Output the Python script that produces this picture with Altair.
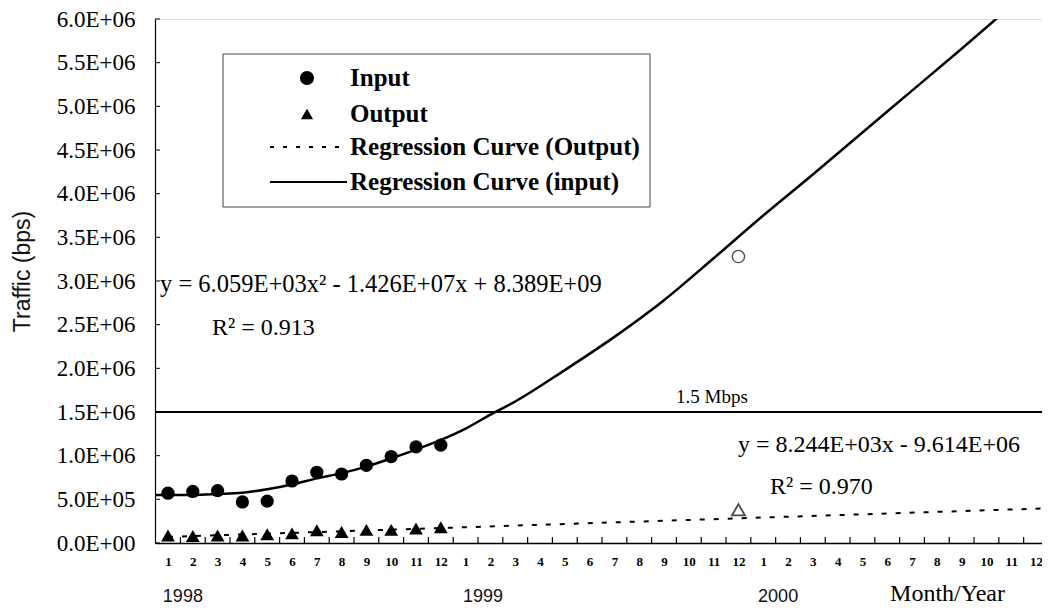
import altair as alt
import pandas as pd

# ---------------- data ----------------
month_index = list(range(36))                      # Jan-1998 .. Dec-2000
month_labels = [str(m) for m in range(1, 13)] * 3
year_labels = ["1998", "1999", "2000"]

input_month = [0, 1, 2, 3, 4, 5, 6, 7, 8, 9, 10, 11]
input_traffic = [5.7e5, 5.9e5, 6.0e5, 4.7e5, 4.8e5, 7.1e5, 8.1e5, 7.9e5, 8.9e5, 9.9e5, 1.10e6, 1.12e6]
output_traffic = [8.5e4, 8.0e4, 8.5e4, 8.5e4, 1.0e5, 1.1e5, 1.45e5, 1.25e5, 1.5e5, 1.5e5, 1.65e5, 1.8e5]

reg_in_month = [-0.52, 0, 1, 2, 3, 4, 5, 6, 7, 8, 9, 10, 11, 12, 13, 14, 16, 18, 20, 22, 24, 26, 28, 30, 32, 34.0]
reg_in_traffic = [5.5e5, 5.5e5, 5.5e5, 5.6e5, 5.75e5, 6.15e5, 6.7e5, 7.4e5, 8.0e5, 8.75e5, 9.7e5, 1.07e6,
                  1.18e6, 1.31e6, 1.47e6, 1.62e6, 1.98e6, 2.36e6, 2.78e6, 3.26e6, 3.75e6, 4.22e6,
                  4.70e6, 5.18e6, 5.66e6, 6.15e6]

reg_out_month = [0, 35.2]
reg_out_traffic = [7.0e4, 3.95e5]

proj_month = [23]
proj_input = [3.28e6]
proj_output = [3.8e5]

threshold_bps = [1.5e6]

y_tick_values = [0, 5e5, 1e6, 1.5e6, 2e6, 2.5e6, 3e6, 3.5e6, 4e6, 4.5e6, 5e6, 5.5e6, 6e6]
y_tick_labels = ["0.0E+00", "5.0E+05", "1.0E+06", "1.5E+06", "2.0E+06", "2.5E+06", "3.0E+06",
                 "3.5E+06", "4.0E+06", "4.5E+06", "5.0E+06", "5.5E+06", "6.0E+06"]
x_tick_between = [i + 0.5 for i in range(35)]

# ---------------- tables ----------------
df_in = pd.DataFrame({"t": input_month, "v": input_traffic})
df_out = pd.DataFrame({"t": input_month, "v": output_traffic})
df_reg_in = pd.DataFrame({"t": reg_in_month, "v": reg_in_traffic})
df_reg_out = pd.DataFrame({"t": reg_out_month, "v": reg_out_traffic})
df_proj_in = pd.DataFrame({"t": proj_month, "v": proj_input})
df_proj_out = pd.DataFrame({"t": proj_month, "v": proj_output})
df_thr = pd.DataFrame({"v": threshold_bps})
df_yt = pd.DataFrame({"v": y_tick_values})
df_xt = pd.DataFrame({"t": x_tick_between})
df_years = pd.DataFrame({"t": [0.6, 12.7, 24.6], "label": year_labels})

W, H = 887, 524
SERIF = "Liberation Serif"
SANS = "Liberation Sans"

xs = alt.Scale(domain=[-0.524, 35.24], nice=False, zero=False)
ys = alt.Scale(domain=[0, 6e6], nice=False, zero=False)

def js_arr(a):
    return "[" + ",".join(repr(x) if isinstance(x, str) else str(x) for x in a) + "]"

x_axis = alt.Axis(
    values=month_index,
    labelExpr=f"{js_arr(month_labels)}[datum.value]",
    ticks=False, grid=False, domain=True, domainColor="black", domainWidth=1.5,
    labelFont=SERIF, labelFontWeight="bold", labelFontSize=13, labelColor="black",
    labelPadding=12, labelFlush=False, labelOverlap=False,
    title="Month/Year", titleFont=SERIF, titleFontSize=24, titleFontWeight="normal",
    titleColor="black", titleX=792, titleY=57, titleAlign="center", titleBaseline="alphabetic",
)
y_axis = alt.Axis(
    values=y_tick_values,
    labelExpr=f"{js_arr(y_tick_labels)}[indexof({js_arr(y_tick_values)}, datum.value)]",
    ticks=False, grid=False, domain=True, domainColor="black", domainWidth=1.2,
    labelFont=SERIF, labelFontSize=23, labelColor="black", labelPadding=20,
    labelFlush=False, labelOverlap=False,
    title="Traffic (bps)", titleFont=SANS, titleFontSize=23, titleFontWeight="normal",
    titleColor="#111", titleX=-133, titleY=252, titleAngle=270,
    titleAlign="center", titleBaseline="middle",
)

def X(f="t"):
    return alt.X(f"{f}:Q", scale=xs, axis=x_axis)

def Y(f="v"):
    return alt.Y(f"{f}:Q", scale=ys, axis=y_axis)

layers = []

# threshold line
layers.append(alt.Chart(df_thr).mark_rule(color="black", strokeWidth=2).encode(y=Y()))

# regression input (solid)
layers.append(alt.Chart(df_reg_in).mark_line(color="black", strokeWidth=2.5, interpolate="monotone", clip=True)
              .encode(x=X(), y=Y()))
# regression output (dotted)
layers.append(alt.Chart(df_reg_out).mark_line(color="black", strokeWidth=2, strokeDash=[5, 9])
              .encode(x=X(), y=Y()))
# input points
layers.append(alt.Chart(df_in).mark_point(shape="circle", filled=True, color="black", size=175, opacity=1)
              .encode(x=X(), y=Y()))
# output points
layers.append(alt.Chart(df_out).mark_point(shape="triangle-up", filled=True, color="black", size=190, opacity=1)
              .encode(x=X(), y=Y()))
# projected points (open)
layers.append(alt.Chart(df_proj_in).mark_point(shape="circle", filled=False, color="black", size=150, strokeWidth=1.4)
              .encode(x=X(), y=Y()))
layers.append(alt.Chart(df_proj_out).mark_point(shape="triangle-up", filled=False, color="black", size=170, strokeWidth=1.8)
              .encode(x=X(), y=Y()))

# inward axis ticks
layers.append(alt.Chart(df_yt).mark_rule(color="black", strokeWidth=1)
              .encode(y=Y(), x=alt.value(0), x2=alt.value(5)))
layers.append(alt.Chart(df_xt).mark_rule(color="black", strokeWidth=1.2)
              .encode(x=X(), y=alt.value(H), y2=alt.value(H - 6)))

# year labels
layers.append(alt.Chart(df_years).mark_text(font=SANS, fontSize=18, color="#111", align="center", baseline="alphabetic")
              .encode(x=X(), y=alt.value(583), text="label:N"))

# annotations
def txt(s, x, y, size=24, align="left", weight="normal"):
    return alt.Chart(pd.DataFrame({"s": [s]})).mark_text(
        font=SERIF, fontSize=size, color="black", align=align, baseline="middle", fontWeight=weight
    ).encode(x=alt.value(x), y=alt.value(y), text="s:N")

layers.append(txt("y = 6.059E+03x\u00b2 - 1.426E+07x + 8.389E+09", 5, 266, size=24.5))
layers.append(txt("R\u00b2 = 0.913", 57, 309))
layers.append(txt("1.5 Mbps", 557, 378, size=19, align="center"))
layers.append(txt("y = 8.244E+03x - 9.614E+06", 583, 426))
layers.append(txt("R\u00b2 = 0.970", 615, 468))

# legend box
legend_df = pd.DataFrame({"a": [0]})
layers.append(alt.Chart(legend_df).mark_rect(fill="white", stroke="#444", strokeWidth=1)
              .encode(x=alt.value(68), x2=alt.value(495), y=alt.value(35), y2=alt.value(188)))
layers.append(alt.Chart(legend_df).mark_point(shape="circle", filled=True, color="black", size=200, opacity=1)
              .encode(x=alt.value(152), y=alt.value(59)))
layers.append(alt.Chart(legend_df).mark_point(shape="triangle-up", filled=True, color="black", size=150, opacity=1)
              .encode(x=alt.value(152), y=alt.value(95)))
layers.append(alt.Chart(legend_df).mark_rule(color="black", strokeWidth=2, strokeDash=[4, 9])
              .encode(x=alt.value(115), x2=alt.value(192), y=alt.value(128)))
layers.append(alt.Chart(legend_df).mark_rule(color="black", strokeWidth=2)
              .encode(x=alt.value(115), x2=alt.value(192), y=alt.value(163)))
layers.append(txt("Input", 195, 59, size=25, weight="bold"))
layers.append(txt("Output", 195, 95, size=25, weight="bold"))
layers.append(txt("Regression Curve (Output)", 195, 128, size=25, weight="bold"))
layers.append(txt("Regression Curve (input)", 195, 163, size=25, weight="bold"))

chart = alt.layer(*layers).properties(
    width=W, height=H,
    autosize=alt.AutoSizeParams(type="none"),
    padding={"left": 147, "top": 11, "right": 0, "bottom": 63},
).configure_view(stroke=None).configure(background="white")

chart.save("out.html", embed_options={"renderer": "svg", "actions": False})
